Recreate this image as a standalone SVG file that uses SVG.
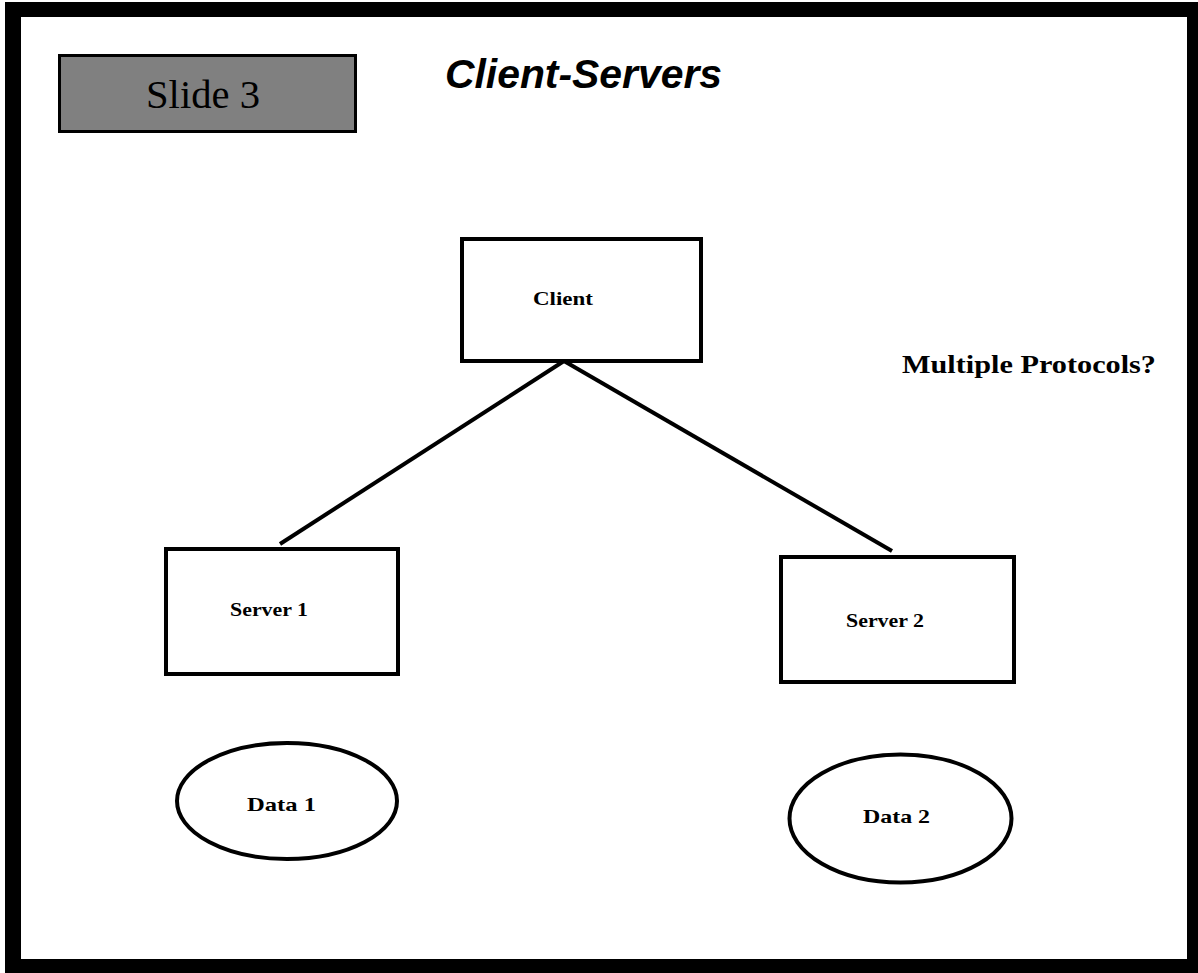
<svg xmlns="http://www.w3.org/2000/svg" width="1198" height="973" viewBox="0 0 1198 973">
<style>
.box{fill:#fff;stroke:#000;stroke-width:4}
.lbl{font-family:"Liberation Serif","DejaVu Serif",serif;font-weight:bold;font-size:19px;fill:#000}
.conn{stroke:#000;stroke-width:4;fill:none}
</style>
<rect x="0" y="0" width="1198" height="973" fill="#fff"/>
<rect x="5" y="2" width="1193" height="971" fill="#000"/>
<rect x="21" y="17" width="1166" height="942" fill="#fff"/>
<g id="slide-label">
<rect x="59.5" y="55.5" width="296" height="76" fill="#808080" stroke="#000" stroke-width="3"/>
<text x="146" y="108" font-family="Liberation Serif, DejaVu Serif, serif" font-size="39" textLength="114" lengthAdjust="spacingAndGlyphs">Slide 3</text>
</g>
<g id="title">
<text x="445" y="88" font-family="Liberation Sans, Arial, sans-serif" font-weight="bold" font-style="italic" font-size="40" textLength="277" lengthAdjust="spacingAndGlyphs">Client-Servers</text>
</g>
<g id="note">
<text x="902" y="373" font-family="Liberation Serif, DejaVu Serif, serif" font-weight="bold" font-size="26" textLength="254" lengthAdjust="spacingAndGlyphs">Multiple Protocols?</text>
</g>
<g id="connectors">
<line class="conn" x1="280" y1="544" x2="564" y2="361"/>
<line class="conn" x1="564" y1="361" x2="892" y2="551"/>
</g>
<g id="client">
<rect class="box" x="462" y="239" width="239" height="122"/>
<text class="lbl" x="533" y="305" textLength="60" lengthAdjust="spacingAndGlyphs">Client</text>
</g>
<g id="server1">
<rect class="box" x="166" y="549" width="232" height="125"/>
<text class="lbl" x="230" y="616" textLength="78" lengthAdjust="spacingAndGlyphs">Server 1</text>
</g>
<g id="server2">
<rect class="box" x="781" y="557" width="233" height="125"/>
<text class="lbl" x="846" y="627" textLength="78" lengthAdjust="spacingAndGlyphs">Server 2</text>
</g>
<g id="data1">
<ellipse class="box" cx="287" cy="801" rx="110" ry="58"/>
<text class="lbl" x="247" y="811" textLength="69" lengthAdjust="spacingAndGlyphs">Data 1</text>
</g>
<g id="data2">
<ellipse class="box" cx="900.5" cy="818.5" rx="111" ry="64"/>
<text class="lbl" x="863" y="823" textLength="67" lengthAdjust="spacingAndGlyphs">Data 2</text>
</g>
</svg>
